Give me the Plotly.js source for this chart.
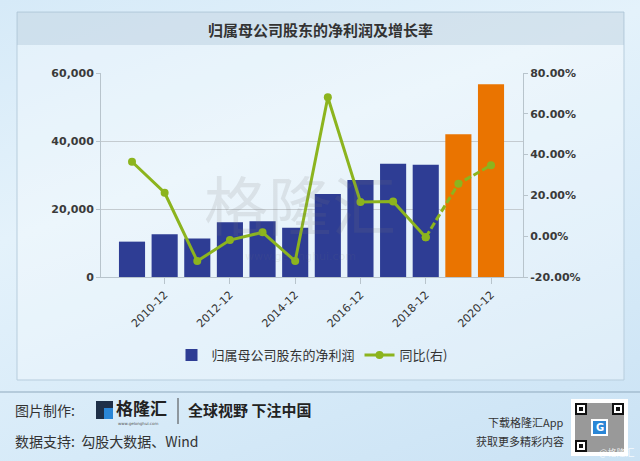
<!DOCTYPE html>
<html>
<head>
<meta charset="utf-8">
<script src="https://cdn.plot.ly/plotly-3.0.1.min.js"></script>
<style>
  html, body { margin: 0; padding: 0; }
  #chart {
    width: 640px; height: 461px;
    background: linear-gradient(160deg, #d6eaf8 0%, #e4f2fb 35%, #d6eaf8 70%, #cae2f4 100%);
  }
</style>
</head>
<body>
<div id="chart"></div>
<script>
// ---- data ----
const categories = ['2009-12','2010-12','2011-12','2012-12','2013-12','2014-12','2015-12','2016-12','2017-12','2018-12','2019-12','2020-12'];
const netProfit = [10400, 12600, 11300, 16100, 16400, 14500, 24400, 28500, 33300, 33000, 42000, 56700];
const yoyGrowth = [36.5, 21.3, -12.2, -1.9, 1.9, -12.2, 68.1, 16.8, 17.0, -0.5, 25.7, 34.8];
const tickLabels = ['2010-12','2012-12','2014-12','2016-12','2018-12','2020-12'];
const leftTicks = [0, 20000, 40000, 60000];
const rightTicks = [-20, 0, 20, 40, 60, 80];
const rightTickText = ['-20.00%', '0.00%', '20.00%', '40.00%', '60.00%', '80.00%'];
const barName = '归属母公司股东的净利润';
const lineName = '同比(右)';
const titleText = '归属母公司股东的净利润及增长率';
const estimateFrom = 10; // bars from this index are drawn orange, line dashed

// ---- styles ----
const BLUE = '#2e3d94', ORANGE = '#ea7400', GREEN = '#8cb41e';
const L = 101, R = 523, T = 73, B = 277;
const px = x => (x - L) / (R - L);
const py = y => (B - y) / (B - T);
const CJK = '"Noto Sans CJK SC", "Noto Sans", sans-serif';

const barColors = categories.map((c, i) => i >= estimateFrom ? ORANGE : BLUE);

const traces = [
  {
    type: 'bar', x: categories, y: netProfit, name: barName,
    marker: { color: barColors, line: { width: 0 } },
    yaxis: 'y', hoverinfo: 'x+y'
  },
  {
    type: 'scatter', mode: 'lines+markers',
    x: categories.slice(0, estimateFrom), y: yoyGrowth.slice(0, estimateFrom),
    name: lineName, yaxis: 'y2',
    line: { color: GREEN, width: 3 }, marker: { color: GREEN, size: 8 }
  },
  {
    type: 'scatter', mode: 'lines+markers',
    x: categories.slice(estimateFrom - 1), y: yoyGrowth.slice(estimateFrom - 1),
    name: lineName, yaxis: 'y2', showlegend: false,
    line: { color: GREEN, width: 3, dash: '7px,3px' }, marker: { color: GREEN, size: 8 }
  }
];

const tickFont = { family: '"DejaVu Sans", Verdana, sans-serif', size: 11, color: '#3a3a3a', weight: 'bold' };

const shapes = [
  // chart panel
  { type: 'rect', xref: 'paper', yref: 'paper', x0: px(17), x1: px(624), y0: py(12), y1: py(380),
    line: { color: '#b7cddd', width: 1 }, fillcolor: 'rgba(255,255,255,0.3)', layer: 'below' },
  // title band
  { type: 'rect', xref: 'paper', yref: 'paper', x0: px(17), x1: px(624), y0: py(12), y1: py(45),
    line: { width: 0 }, fillcolor: 'rgba(150,180,200,0.28)', layer: 'below' },
  // footer separator
  { type: 'line', xref: 'paper', yref: 'paper', x0: px(0), x1: px(640), y0: py(392), y1: py(392),
    line: { color: '#8fa9bd', width: 1 } },
  // logo icon
  { type: 'rect', xref: 'paper', yref: 'paper', x0: px(96), x1: px(113), y0: py(401), y1: py(419),
    line: { width: 0 }, fillcolor: '#1e2f48' },
  { type: 'rect', xref: 'paper', yref: 'paper', x0: px(104), x1: px(113), y0: py(408), y1: py(419),
    line: { width: 0 }, fillcolor: '#2a86d6' },
  // logo divider
  { type: 'line', xref: 'paper', yref: 'paper', x0: px(178), x1: px(178), y0: py(398), y1: py(424),
    line: { color: '#444', width: 1 } },
  // QR code
  { type: 'rect', xref: 'paper', yref: 'paper', x0: px(571), x1: px(628), y0: py(399), y1: py(456),
    line: { width: 0 }, fillcolor: '#ffffff' },
  { type: 'rect', xref: 'paper', yref: 'paper', x0: px(575), x1: px(624), y0: py(403), y1: py(452),
    line: { width: 0 }, fillcolor: 'rgba(70,70,70,0.55)' }
];
// finder patterns of the QR
[[575, 403], [612, 403], [575, 440]].forEach(([x, y]) => {
  shapes.push({ type: 'rect', xref: 'paper', yref: 'paper', x0: px(x), x1: px(x + 12), y0: py(y), y1: py(y + 12), line: { width: 0 }, fillcolor: '#111' });
  shapes.push({ type: 'rect', xref: 'paper', yref: 'paper', x0: px(x + 2), x1: px(x + 10), y0: py(y + 2), y1: py(y + 10), line: { width: 0 }, fillcolor: '#fff' });
  shapes.push({ type: 'rect', xref: 'paper', yref: 'paper', x0: px(x + 4), x1: px(x + 8), y0: py(y + 4), y1: py(y + 8), line: { width: 0 }, fillcolor: '#111' });
});
shapes.push({ type: 'rect', xref: 'paper', yref: 'paper', x0: px(592), x1: px(607), y0: py(420), y1: py(435), line: { color: '#fff', width: 2 }, fillcolor: '#2a86d6' });

const ann = (x, y, text, opts = {}) => Object.assign({
  xref: 'paper', yref: 'paper', x: px(x), y: py(y), text, showarrow: false,
  xanchor: 'left', yanchor: 'middle',
  font: { family: CJK, size: 14, color: '#333' }
}, opts);

const annotations = [
  ann(320, 29, titleText, { xanchor: 'center', font: { family: CJK, size: 15, color: '#333', weight: 'bold' } }),
  // watermark
  ann(300, 202, '格隆汇', { xanchor: 'center', font: { family: CJK, size: 64, color: 'rgba(120,120,120,0.15)' } }),
  ann(300, 256, 'www.gelonghui.com', { xanchor: 'center', font: { family: '"DejaVu Sans", sans-serif', size: 11, color: 'rgba(120,120,120,0.12)' } }),
  // footer
  ann(13, 410, '图片制作:', { font: { family: CJK, size: 14, color: '#333' } }),
  ann(114, 407, '格隆汇', { font: { family: CJK, size: 17, color: '#222', weight: 'bold' } }),
  ann(116, 423, 'www.gelonghui.com', { font: { family: '"DejaVu Sans", sans-serif', size: 4, color: '#555' } }),
  ann(186, 409, '全球视野 下注中国', { font: { family: CJK, size: 15, color: '#222', weight: 'bold' } }),
  ann(13, 441, '数据支持:  勾股大数据、Wind', { font: { family: CJK, size: 14, color: '#333' } }),
  ann(566, 422, '下载格隆汇App', { xanchor: 'right', font: { family: CJK, size: 11, color: '#333' } }),
  ann(566, 441, '获取更多精彩内容', { xanchor: 'right', font: { family: CJK, size: 11, color: '#333' } }),
  ann(637, 452, '@格隆汇', { xanchor: 'right', font: { family: CJK, size: 9, color: 'rgba(255,255,255,0.85)' } }),
  ann(599.5, 427.5, 'G', { xanchor: 'center', font: { family: '"DejaVu Sans", sans-serif', size: 10, color: '#fff', weight: 'bold' } })
];

const layout = {
  width: 640, height: 461,
  margin: { l: L, r: 640 - R, t: T, b: 461 - B, pad: 0 },
  paper_bgcolor: 'rgba(0,0,0,0)', plot_bgcolor: 'rgba(0,0,0,0)',
  showlegend: true,
  bargap: 0.2,
  font: { family: CJK, color: '#333' },
  xaxis: {
    type: 'category', range: [-0.95, 11.98],
    tickmode: 'array', tickvals: tickLabels, ticktext: tickLabels,
    tickangle: -45, ticks: 'outside', ticklen: 6, tickcolor: '#b8c4cc',
    showline: true, linecolor: '#b8c4cc', linewidth: 1, showgrid: false,
    tickfont: { family: '"DejaVu Sans", Verdana, sans-serif', size: 11, color: '#333' },
    fixedrange: true
  },
  yaxis: {
    range: [0, 60000], tickmode: 'array', tickvals: leftTicks, tickformat: ',d',
    ticks: 'outside', ticklen: 4, tickcolor: '#b8c4cc',
    showline: true, linecolor: '#b8c4cc', linewidth: 1,
    showgrid: true, gridcolor: '#c4cbd0', gridwidth: 1, zeroline: false,
    tickfont: tickFont, fixedrange: true
  },
  yaxis2: {
    overlaying: 'y', side: 'right', range: [-20, 80],
    tickmode: 'array', tickvals: rightTicks, ticktext: rightTickText,
    ticks: 'outside', ticklen: 4, tickcolor: '#b8c4cc',
    showline: true, linecolor: '#b8c4cc', linewidth: 1,
    showgrid: false, zeroline: false,
    tickfont: tickFont, fixedrange: true
  },
  legend: {
    orientation: 'h', x: px(312), xanchor: 'center', y: py(355), yanchor: 'middle',
    bgcolor: 'rgba(0,0,0,0)', font: { family: CJK, size: 13, color: '#333' },
    itemwidth: 30, traceorder: 'normal'
  },
  shapes, annotations
};

Plotly.newPlot('chart', traces, layout, { displayModeBar: false, staticPlot: true });
</script>
</body>
</html>
